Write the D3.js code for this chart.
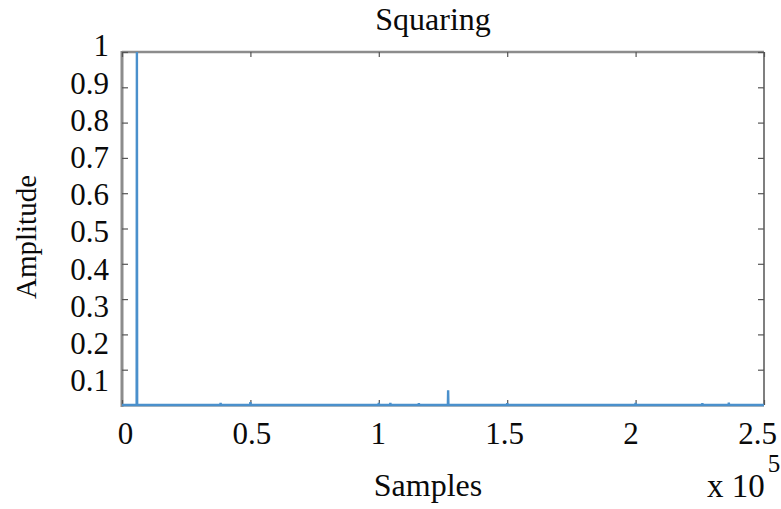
<!DOCTYPE html>
<html>
<head>
<meta charset="utf-8">
<script src="https://cdn.jsdelivr.net/npm/d3@7"></script>
<style>
  body { margin: 0; background: #fff; }
  svg { display: block; font-family: "Liberation Serif", "Times New Roman", serif; }
</style>
</head>
<body>
<svg id="chart" width="781" height="509"></svg>
<script>
// data ---------------------------------------------------------------------
// sample index / squared amplitude, with the zero points around each spike
const samples = [0, 5700, 5800, 5900, 38300, 38400, 38500, 49900, 50000, 50100,
  99900, 100000, 100100, 104400, 104500, 104600, 115500, 115600, 115700,
  126900, 127000, 127100, 149900, 150000, 150100, 199900, 200000, 200100,
  225900, 226000, 226100, 236200, 236300, 236400, 250000];
const amplitude = [0, 0, 1, 0, 0, 0.006, 0, 0, 0.008, 0,
  0, 0.006, 0, 0, 0.006, 0, 0, 0.005, 0,
  0, 0.042, 0, 0, 0.005, 0, 0, 0.006, 0,
  0, 0.005, 0, 0, 0.007, 0, 0];

const xTicks = [0, 50000, 100000, 150000, 200000, 250000];
const yTicks = [0.1, 0.2, 0.3, 0.4, 0.5, 0.6, 0.7, 0.8, 0.9, 1];

const titleText = "Squaring";
const xLabelText = "Samples";
const yLabelText = "Amplitude";

// layout ------------------------------------------------------------------
const svg = d3.select("#chart");
const plotLeft = 122, plotRight = 764, plotTop = 52, plotBottom = 405;

const x = d3.scaleLinear().domain([0, 250000]).range([plotLeft, plotRight]);
const y = d3.scaleLinear().domain([0, 1]).range([plotBottom, plotTop]);

// the tick labels in the picture sit a bit off their ticks
const xLab = d3.scaleLinear().domain([0, 250000]).range([125, 757]);
const yLab = d3.scaleLinear().domain([0.1, 1]).range([380, 45]);

// frame
svg.append("line").attr("x1", plotLeft).attr("x2", plotRight).attr("y1", plotTop).attr("y2", plotTop)
  .attr("stroke", "#8c8c8c").attr("stroke-width", 2.5);
svg.append("line").attr("x1", plotRight).attr("x2", plotRight).attr("y1", plotTop).attr("y2", plotBottom)
  .attr("stroke", "#555").attr("stroke-width", 1.5);
svg.append("line").attr("x1", plotLeft).attr("x2", plotRight).attr("y1", plotBottom + 1).attr("y2", plotBottom + 1)
  .attr("stroke", "#bbb").attr("stroke-width", 2);
svg.append("line").attr("x1", plotLeft).attr("x2", plotLeft).attr("y1", plotTop - 1).attr("y2", plotBottom + 2)
  .attr("stroke", "#8c8c8c").attr("stroke-width", 3);

// inward ticks on all four sides
function tickStyle(g) {
  g.select(".domain").remove();
  g.selectAll(".tick line").attr("stroke", "#555").attr("stroke-width", 1.2);
}
svg.append("g").attr("transform", `translate(0,${plotBottom})`)
  .call(d3.axisBottom(x).tickValues(xTicks).tickSize(-5).tickFormat("")).call(tickStyle);
svg.append("g").attr("transform", `translate(0,${plotTop})`)
  .call(d3.axisTop(x).tickValues(xTicks).tickSize(-5).tickFormat("")).call(tickStyle);
svg.append("g").attr("transform", `translate(${plotLeft},0)`)
  .call(d3.axisLeft(y).tickValues(yTicks).tickSize(-6).tickFormat("")).call(tickStyle);
svg.append("g").attr("transform", `translate(${plotRight},0)`)
  .call(d3.axisRight(y).tickValues(yTicks).tickSize(-6).tickFormat("")).call(tickStyle);

// tick labels
svg.append("g").attr("transform", "translate(0,419)")
  .call(d3.axisBottom(xLab).tickValues(xTicks).tickSize(0).tickFormat(d => d / 1e5))
  .call(g => g.select(".domain").remove())
  .call(g => g.selectAll("text").attr("font-family", "Liberation Serif")
    .attr("font-size", 31).attr("fill", "#0a0a0a").attr("dy", "0.71em"));
svg.append("g").attr("transform", "translate(109,0)")
  .call(d3.axisLeft(yLab).tickValues(yTicks).tickSize(0).tickPadding(0).tickFormat(d3.format("~g")))
  .call(g => g.select(".domain").remove())
  .call(g => g.selectAll("text").attr("font-family", "Liberation Serif")
    .attr("font-size", 31).attr("fill", "#0a0a0a").attr("dy", "0.35em"));

// signal
const line = d3.line().x((d, i) => x(samples[i])).y(d => y(d));
svg.append("path").datum(amplitude)
  .attr("d", line)
  .attr("fill", "none")
  .attr("stroke", "#4a90cc")
  .attr("stroke-width", 2.4);

// texts
svg.append("text").attr("x", 433).attr("y", 30).attr("text-anchor", "middle")
  .attr("font-size", 32).attr("fill", "#0a0a0a").text(titleText);
svg.append("text").attr("x", 428).attr("y", 496).attr("text-anchor", "middle")
  .attr("font-size", 32).attr("fill", "#0a0a0a").text(xLabelText);
svg.append("text").attr("transform", "translate(36,237) rotate(-90)").attr("text-anchor", "middle")
  .attr("font-size", 29).attr("fill", "#0a0a0a").text(yLabelText);

// exponent note
const expo = svg.append("text").attr("x", 707).attr("y", 497).attr("font-size", 33).attr("fill", "#0a0a0a");
expo.append("tspan").text("x 10");
expo.append("tspan").attr("dx", 3).attr("dy", -25).attr("font-size", 25).text("5");
</script>
</body>
</html>
